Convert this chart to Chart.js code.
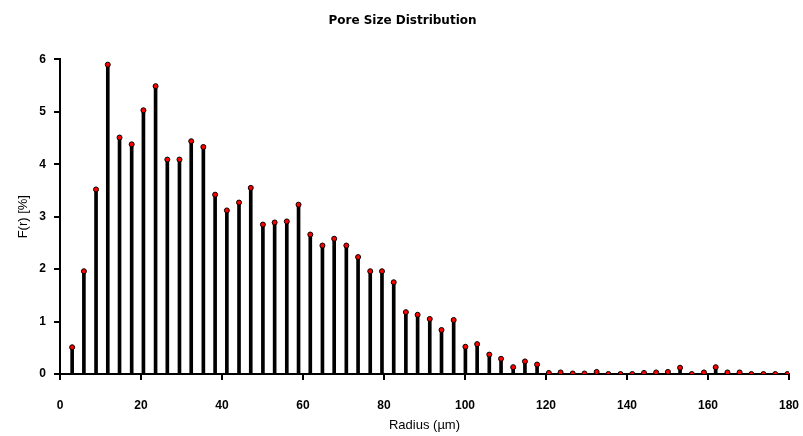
<!DOCTYPE html>
<html>
<head>
<meta charset="utf-8">
<title>Pore Size Distribution</title>
<script src="https://cdn.jsdelivr.net/npm/chart.js@4/dist/chart.umd.min.js"></script>
<style>
  html, body { margin: 0; padding: 0; background: #fff; }
  #wrap { width: 803px; height: 436px; }
</style>
</head>
<body>
<div id="wrap"><canvas id="chart1" width="803" height="436"></canvas></div>
<script>
// radius of each pore class (um)
var radius = [3.0, 5.9, 8.9, 11.8, 14.7, 17.7, 20.6, 23.6, 26.5, 29.5,
  32.4, 35.4, 38.3, 41.2, 44.2, 47.1, 50.1, 53.0, 56.0, 58.9,
  61.8, 64.8, 67.7, 70.7, 73.6, 76.6, 79.5, 82.4, 85.4, 88.3,
  91.3, 94.2, 97.2, 100.1, 103.0, 106.0, 108.9, 111.9, 114.8, 117.8,
  120.7, 123.6, 126.6, 129.5, 132.5, 135.4, 138.4, 141.3, 144.2, 147.2,
  150.1, 153.1, 156.0, 159.0, 161.9, 164.8, 167.8, 170.7, 173.7, 176.6, 179.6];

// F(r) in percent
var fr = [0.51, 1.96, 3.52, 5.90, 4.51, 4.38, 5.03, 5.49, 4.09, 4.09,
  4.44, 4.33, 3.42, 3.12, 3.27, 3.55, 2.85, 2.89, 2.91, 3.23,
  2.66, 2.45, 2.58, 2.45, 2.23, 1.96, 1.96, 1.75, 1.18, 1.13,
  1.05, 0.84, 1.03, 0.52, 0.57, 0.37, 0.29, 0.13, 0.24, 0.18,
  0.02, 0.03, 0.01, 0.01, 0.04, 0.0, 0.0, 0.0, 0.02, 0.03,
  0.04, 0.12, 0.0, 0.03, 0.13, 0.03, 0.03, 0.0, 0.0, 0.0, 0.0];

var xTicks = [0, 20, 40, 60, 80, 100, 120, 140, 160, 180];
var yTicks = [0, 1, 2, 3, 4, 5, 6];

var font = "'Liberation Sans', Arial, sans-serif";

function drawChart1() {

  var pts = [];
  for (var i = 0; i < radius.length; i++) {
    pts.push({ x: radius[i], y: fr[i] });
  }

  new Chart(document.getElementById("chart1"), {
    data: {
      datasets: [
        {
          type: 'line',
          label: "F(r)",
          data: pts,
          showLine: false,
          pointRadius: 2.5,
          pointBackgroundColor: "#ff0000",
          pointBorderColor: "#000000",
          pointBorderWidth: 1,
          order: 0
        },
        {
          type: 'bar',
          label: "stem",
          data: pts,
          backgroundColor: "#000000",
          barThickness: 3,
          grouped: false,
          order: 1
        }
      ]
    },
    options: {
      responsive: false,
      animation: false,
      layout: { padding: { left: 16, right: 14, top: 4, bottom: 0 } },
      plugins: {
        legend: { display: false },
        tooltip: { enabled: false },
        title: {
          display: true,
          text: 'Pore Size Distribution',
          color: '#000',
          font: { family: "'DejaVu Sans', sans-serif", size: 12, weight: 'bold' },
          padding: { top: 10, bottom: 31 }
        }
      },
      scales: {
        x: {
          type: 'linear',
          min: 0,
          max: 180,
          offset: false,
          afterBuildTicks: function(axis) {
            axis.ticks = xTicks.map(function(v) { return { value: v }; });
          },
          afterFit: function(axis) {
            axis.height = 62;
            axis.paddingLeft = 0;
            axis.paddingRight = 0;
          },
          grid: { display: true, offset: false, drawOnChartArea: false, drawTicks: true, tickLength: 6, color: '#000', lineWidth: 2 },
          border: { display: true, color: '#000', width: 2 },
          ticks: { color: '#000', font: { family: font, size: 12, weight: 'bold' }, padding: 18, maxRotation: 0 },
          title: { display: true, text: 'Radius (µm)', color: '#000', font: { family: font, size: 13 }, padding: { top: 0, bottom: 3 } }
        },
        y: {
          min: 0,
          max: 6,
          afterBuildTicks: function(axis) {
            axis.ticks = yTicks.map(function(v) { return { value: v }; });
          },
          afterFit: function(axis) {
            axis.width = 44;
          },
          grid: { display: true, drawOnChartArea: false, drawTicks: true, tickLength: 6, color: '#000', lineWidth: 2 },
          border: { display: true, color: '#000', width: 2 },
          ticks: { color: '#000', font: { family: font, size: 12, weight: 'bold' }, padding: 8 },
          title: { display: true, text: 'F(r) [%]', color: '#000', font: { family: font, size: 13 }, padding: { top: 0, bottom: 0 } }
        }
      }
    }
  });
}

drawChart1();
</script>
</body>
</html>
